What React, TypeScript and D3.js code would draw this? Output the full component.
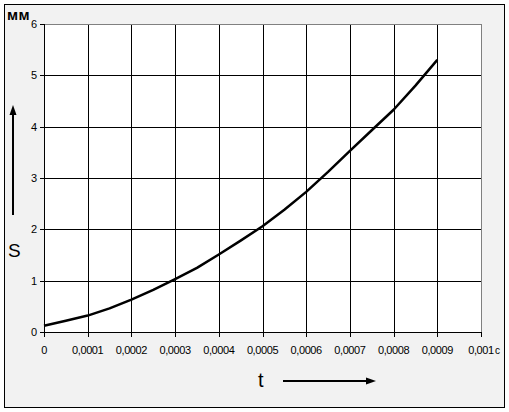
import React from "react";
import * as d3 from "d3";

const tValues = [0, 0.00005, 0.0001, 0.00015, 0.0002, 0.00025, 0.0003, 0.00035, 0.0004, 0.00045, 0.0005, 0.00055, 0.0006, 0.00065, 0.0007, 0.00075, 0.0008, 0.00085, 0.0009];
const sValues = [0.12, 0.22, 0.32, 0.46, 0.63, 0.82, 1.03, 1.25, 1.51, 1.78, 2.06, 2.38, 2.73, 3.12, 3.53, 3.93, 4.33, 4.8, 5.3];
const xTicks = [0, 0.0001, 0.0002, 0.0003, 0.0004, 0.0005, 0.0006, 0.0007, 0.0008, 0.0009, 0.001];
const xTickLabels = ["0", "0,0001", "0,0002", "0,0003", "0,0004", "0,0005", "0,0006", "0,0007", "0,0008", "0,0009", "0,001"];
const yTicks = [0, 1, 2, 3, 4, 5, 6];

export default function App() {
  const W = 509, H = 412;
  const left = 44, right = 481, top = 24, bottom = 332;
  const x = d3.scaleLinear().domain([0, 0.001]).range([left, right]);
  const y = d3.scaleLinear().domain([0, 6]).range([bottom, top]);
  const line = d3.line<number>().x((_, i) => x(tValues[i])).y((d) => y(d));
  const font = "'Liberation Sans', Arial, sans-serif";
  return (
    <svg width={W} height={H} style={{ position: "absolute", left: 0, top: 0 }}>
      <rect x={0} y={0} width={W} height={H} fill="#ffffff" />
      <rect x={4.5} y={4.5} width={500} height={403} fill="#f2f2f2" stroke="#000" strokeWidth={1} />
      <rect x={left} y={top} width={right - left} height={bottom - top} fill="#ffffff" />
      {xTicks.slice(1, -1).map((t, i) => (
        <line key={"vx" + i} x1={Math.round(x(t)) + 0.5} x2={Math.round(x(t)) + 0.5} y1={top} y2={bottom} stroke="#000" />
      ))}
      {yTicks.slice(1, -1).map((v, i) => (
        <line key={"hy" + i} x1={left} x2={right} y1={Math.round(y(v)) + 0.5} y2={Math.round(y(v)) + 0.5} stroke="#000" />
      ))}
      <line x1={left} x2={right + 0.5} y1={top + 0.5} y2={top + 0.5} stroke="#808080" />
      <line x1={right + 0.5} x2={right + 0.5} y1={top} y2={bottom} stroke="#808080" />
      <line x1={left + 0.5} x2={left + 0.5} y1={top} y2={bottom + 0.5} stroke="#000" />
      <line x1={left} x2={right + 1} y1={bottom + 0.5} y2={bottom + 0.5} stroke="#000" />
      {yTicks.map((v, i) => (
        <g key={"yt" + i}>
          <line x1={left - 4} x2={left} y1={Math.round(y(v)) + 0.5} y2={Math.round(y(v)) + 0.5} stroke="#000" />
          <text x={37} y={y(v) + 4} textAnchor="end" fontFamily={font} fontSize={11} fill="#000">{v}</text>
        </g>
      ))}
      {xTicks.map((t, i) => (
        <g key={"xt" + i}>
          <line x1={Math.round(x(t)) + 0.5} x2={Math.round(x(t)) + 0.5} y1={bottom} y2={bottom + 5} stroke="#000" />
          <text x={x(t)} y={354} textAnchor="middle" fontFamily={font} fontSize={11} letterSpacing={-0.4} fill="#000">{xTickLabels[i]}</text>
        </g>
      ))}
      <text x={495} y={354} fontFamily={font} fontSize={10} fill="#000">с</text>
      <text x={7} y={19.5} fontFamily={font} fontSize={15} fontWeight="bold" letterSpacing={0.3} fill="#000">мм</text>
      <path d={line(sValues) || ""} fill="none" stroke="#000" strokeWidth={2.5} strokeLinejoin="round" />
      {/* S label and arrow */}
      <text x={8} y={257} fontFamily={font} fontSize={19} fill="#000">S</text>
      <line x1={13} x2={13} y1={215} y2={112} stroke="#000" strokeWidth={2} />
      <path d="M13,105 L9.5,115 L16.5,115 Z" fill="#000" />
      {/* t label and arrow */}
      <text x={258} y={387} fontFamily={font} fontSize={20} fill="#000">t</text>
      <line x1={283} x2={368} y1={381} y2={381} stroke="#000" strokeWidth={2} />
      <path d="M376,381 L366,377.5 L366,384.5 Z" fill="#000" />
    </svg>
  );
}
